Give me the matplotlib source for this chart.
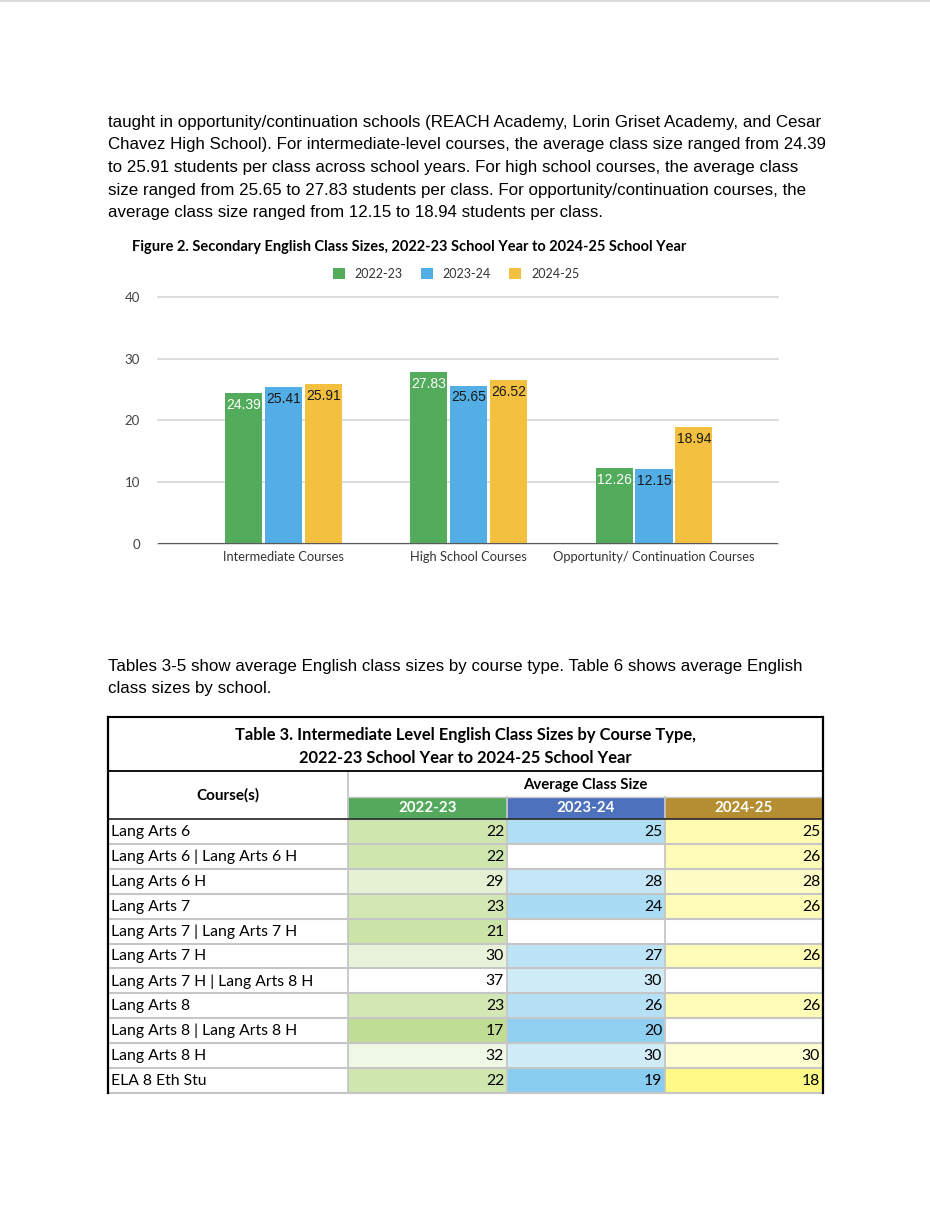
import matplotlib
matplotlib.use("Agg")
import matplotlib.pyplot as plt
from matplotlib.patches import Rectangle
from matplotlib.colors import LinearSegmentedColormap, Normalize
import numpy as np

# ---------------- data ----------------
paragraph1 = [
    "taught in opportunity/continuation schools (REACH Academy, Lorin Griset Academy, and Cesar",
    "Chavez High School). For intermediate-level courses, the average class size ranged from 24.39",
    "to 25.91 students per class across school years. For high school courses, the average class",
    "size ranged from 25.65 to 27.83 students per class. For opportunity/continuation courses, the",
    "average class size ranged from 12.15 to 18.94 students per class.",
]
paragraph2 = [
    "Tables 3-5 show average English class sizes by course type. Table 6 shows average English",
    "class sizes by school.",
]
figure_title = "Figure 2. Secondary English Class Sizes, 2022-23 School Year to 2024-25 School Year"
categories = ["Intermediate Courses", "High School Courses", "Opportunity/ Continuation Courses"]
years = ["2022-23", "2023-24", "2024-25"]
size_2022_23 = [24.39, 27.83, 12.26]
size_2023_24 = [25.41, 25.65, 12.15]
size_2024_25 = [25.91, 26.52, 18.94]
y_ticks = [0, 10, 20, 30, 40]

table_title = [
    "Table 3. Intermediate Level English Class Sizes by Course Type,",
    "2022-23 School Year to 2024-25 School Year",
]
table_col_header = "Course(s)"
table_group_header = "Average Class Size"
courses = [
    "Lang Arts 6", "Lang Arts 6 | Lang Arts 6 H", "Lang Arts 6 H", "Lang Arts 7",
    "Lang Arts 7 | Lang Arts 7 H", "Lang Arts 7 H", "Lang Arts 7 H | Lang Arts 8 H",
    "Lang Arts 8", "Lang Arts 8 | Lang Arts 8 H", "Lang Arts 8 H", "ELA 8 Eth Stu",
]
table_2022_23 = [22, 22, 29, 23, 21, 30, 37, 23, 17, 32, 22]
table_2023_24 = [25, None, 28, 24, None, 27, 30, 26, 20, 30, 19]
table_2024_25 = [25, 26, 28, 26, None, 26, None, 26, None, 30, 18]

# ---------------- styling ----------------
W, H = 930, 1206
BODY = "Liberation Sans"
CAL = "Lato"
bar_colors = ["#53AC5C", "#54AEE6", "#F3C13F"]
label_colors = ["white", "#1a1a1a", "#1a1a1a"]
head_colors = ["#55A95D", "#4E71BE", "#B58E31"]
scale_colors = ["#C0DD94", "#88CDF0", "#FFFA85"]

fig = plt.figure(figsize=(W / 100, H / 100), dpi=100)
fig.patch.set_facecolor("white")
page = fig.add_axes([0, 0, 1, 1])
page.set_xlim(0, W)
page.set_ylim(H, 0)
page.axis("off")

def fx(px):
    return px / W

def fy(py):
    return 1 - py / H

# page top edge line
page.plot([0, W], [0.8, 0.8], color="#d4d4d4", lw=1.2)

# paragraph 1
for i, line in enumerate(paragraph1):
    page.text(108, 127 + i * 22.5, line, family=BODY, fontsize=12.2, va="baseline", ha="left", color="black")

# figure title
page.text(132, 247, figure_title, family=CAL, fontsize=10.5, fontweight="bold", va="center", ha="left", color="black")

# ---------------- bar chart ----------------
ax = fig.add_axes([fx(158), fy(544), 620 / W, 247 / H])
x = np.arange(len(categories))
off, bw = 0.216, 0.2
series = [size_2022_23, size_2023_24, size_2024_25]
handles = []
for i, (vals, c, lc, yr) in enumerate(zip(series, bar_colors, label_colors, years)):
    bars = ax.bar(x + (i - 1) * off, vals, bw, color=c, label=yr, zorder=3)
    handles.append(bars)
    ax.bar_label(bars, labels=[f"{v:.2f}" for v in vals], padding=-13.5, color=lc,
                 fontsize=10, family=BODY)
ax.set_ylim(0, 40)
ax.set_xlim(-0.68, 2.67)
ax.set_yticks(y_ticks)
ax.yaxis.grid(True, color="#d9d9d9", lw=1.3, zorder=0)
for gl in ax.get_ygridlines():
    gl.set_clip_on(False)
ax.set_axisbelow(True)
for s in ax.spines.values():
    s.set_visible(False)
ax.axhline(0, color="#595959", lw=1.5, zorder=4)
ax.tick_params(length=0)
ax.tick_params(axis="y", pad=13, labelsize=9.5, labelcolor="#444444")
ax.set_xticks(x, categories)
ax.tick_params(axis="x", pad=5, labelsize=9.3, labelcolor="#333333")
for lab in ax.get_xticklabels() + ax.get_yticklabels():
    lab.set_family(CAL)
ax.set_facecolor("none")

leg = fig.legend(handles=handles, labels=years, loc="center",
                 bbox_to_anchor=(fx(456), fy(274)), ncol=3, frameon=False,
                 prop={"family": CAL, "size": 9}, handlelength=0.95, handleheight=0.95,
                 handletextpad=0.8, columnspacing=1.45)
for t in leg.get_texts():
    t.set_color("#333333")

# paragraph 2
for i, line in enumerate(paragraph2):
    page.text(108, 671 + i * 22.5, line, family=BODY, fontsize=12.2, va="baseline", ha="left", color="black")

# ---------------- table ----------------
col_edges = [108, 348, 507, 665, 823]
t_top, t_title_bot, t_head_mid, t_head_bot = 717, 771, 797, 819
row_h = 24.9
n = len(courses)
t_bot = t_head_bot + n * row_h

for i, line in enumerate(table_title):
    page.text((col_edges[0] + col_edges[-1]) / 2, 735 + i * 23, line, family=CAL, fontsize=11.9,
              fontweight="bold", ha="center", va="center", color="black")

page.text((col_edges[0] + col_edges[1]) / 2, (t_title_bot + t_head_bot) / 2, table_col_header,
          family=CAL, fontsize=11, fontweight="bold", ha="center", va="center")
page.text((col_edges[1] + col_edges[-1]) / 2, (t_title_bot + t_head_mid) / 2 + 1, table_group_header,
          family=CAL, fontsize=10.8, fontweight="bold", ha="center", va="center")

for j, yr in enumerate(years):
    x0, x1 = col_edges[j + 1], col_edges[j + 2]
    page.add_patch(Rectangle((x0, t_head_mid), x1 - x0, t_head_bot - t_head_mid,
                             facecolor=head_colors[j], edgecolor="none"))
    page.text((x0 + x1) / 2, (t_head_mid + t_head_bot) / 2 + 0.5, yr, family=CAL, fontsize=10.8,
              fontweight="bold", color="white", ha="center", va="center")

columns = [table_2022_23, table_2023_24, table_2024_25]
all_vals = [v for col in columns for v in col if v is not None]
vmax = max(all_vals)
for j, col in enumerate(columns):
    vals = [v for v in col if v is not None]
    cmap = LinearSegmentedColormap.from_list(f"c{j}", [scale_colors[j], "white"])
    norm = Normalize(vmin=min(vals), vmax=vmax)
    x0, x1 = col_edges[j + 1], col_edges[j + 2]
    for r, v in enumerate(col):
        y0 = t_head_bot + r * row_h
        fc = "white" if v is None else cmap(norm(v))
        page.add_patch(Rectangle((x0, y0), x1 - x0, row_h, facecolor=fc, edgecolor="none"))
        if v is not None:
            page.text(x1 - 3, y0 + row_h / 2 + 0.5, str(v), family=CAL, fontsize=11.3,
                      ha="right", va="center", color="black")

for r, c in enumerate(courses):
    y0 = t_head_bot + r * row_h
    page.text(col_edges[0] + 3, y0 + row_h / 2 + 0.5, c, family=CAL, fontsize=11.3,
              ha="left", va="center", color="black")

# grid lines of table
grey = "#c6c6c6"
for r in range(1, n + 1):
    yy = t_head_bot + r * row_h
    page.plot([col_edges[0], col_edges[-1]], [yy, yy], color=grey, lw=1.5, solid_capstyle="butt")
for xx in col_edges[1:-1]:
    page.plot([xx, xx], [t_head_mid if xx != col_edges[1] else t_title_bot, t_bot], color=grey, lw=1.3)
page.plot([col_edges[1], col_edges[-1]], [t_head_mid, t_head_mid], color=grey, lw=1.0)
page.plot([col_edges[0], col_edges[-1]], [t_head_bot, t_head_bot], color="#333333", lw=1.3)
page.plot([col_edges[0], col_edges[-1]], [t_title_bot, t_title_bot], color="black", lw=1.3)
page.plot([col_edges[0], col_edges[-1]], [t_top, t_top], color="black", lw=1.5)
page.plot([col_edges[0], col_edges[0]], [t_top, t_bot], color="black", lw=1.6)
page.plot([col_edges[-1], col_edges[-1]], [t_top, t_bot], color="black", lw=1.6)

fig.savefig("out.png", dpi=100, facecolor="white")
